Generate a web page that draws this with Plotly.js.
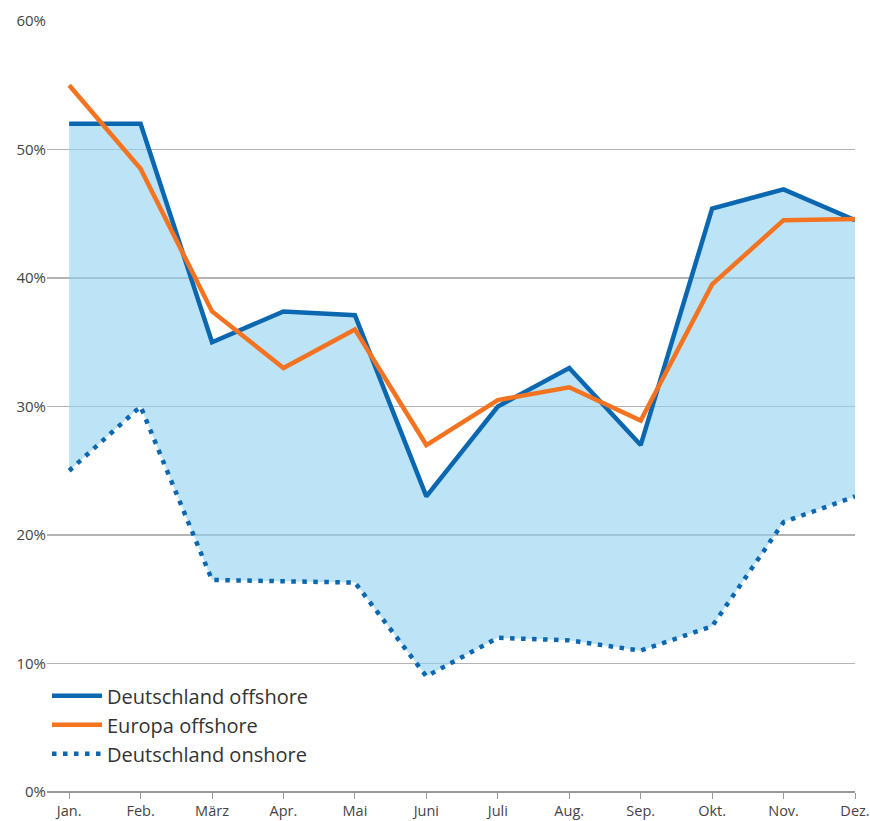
<!DOCTYPE html>
<html>
<head>
<meta charset="utf-8">
<script src="https://cdn.plot.ly/plotly-3.0.1.min.js"></script>
<style>html,body{margin:0;padding:0;background:#fff;}#chart{width:870px;height:821px;}</style>
</head>
<body>
<div id="chart"></div>
<script>
var months = ["Jan.", "Feb.", "März", "Apr.", "Mai", "Juni", "Juli", "Aug.", "Sep.", "Okt.", "Nov.", "Dez."];
var deOffshore = [52, 52, 35, 37.4, 37.1, 23, 30, 33, 27, 45.4, 46.9, 44.5];
var euOffshore = [55, 48.5, 37.4, 33, 36, 27, 30.5, 31.5, 28.9, 39.5, 44.5, 44.6];
var deOnshore = [25, 30, 16.5, 16.4, 16.3, 9, 12, 11.8, 11, 12.9, 21, 23];
var yTicks = [0, 10, 20, 30, 40, 50, 60];
var yTickLabels = ["0%", "10%", "20%", "30%", "40%", "50%", "60%"];

var blue = "#0b67b0", orange = "#f47321";

var traces = [
  {x: months, y: deOnshore, mode: "lines", line: {width: 0, color: "rgba(0,0,0,0)"}, showlegend: false, hoverinfo: "skip"},
  {x: months, y: deOffshore, mode: "lines", fill: "tonexty", fillcolor: "rgba(143,208,240,0.6)", line: {width: 0, color: "rgba(0,0,0,0)"}, showlegend: false, hoverinfo: "skip"},
  {x: months, y: deOffshore, name: "Deutschland offshore", mode: "lines", line: {color: blue, width: 4.5}},
  {x: months, y: euOffshore, name: "Europa offshore", mode: "lines", line: {color: orange, width: 4.5}},
  {x: months, y: deOnshore, name: "Deutschland onshore", mode: "lines", line: {color: blue, width: 4.5, dash: "4.5px,6.5px"}}
];

var layout = {
  width: 870, height: 821,
  margin: {l: 47, r: 15, t: 21, b: 29, pad: 0},
  paper_bgcolor: "#fff", plot_bgcolor: "#fff",
  font: {family: "'Open Sans', Lato, sans-serif", color: "#444", size: 15},
  showlegend: true,
  legend: {x: 0.0, y: 0.15, xanchor: "left", yanchor: "top", traceorder: "normal", font: {size: 20, color: "#333"}, bgcolor: "rgba(0,0,0,0)", tracegroupgap: 0, itemwidth: 50},
  xaxis: {
    type: "category", categoryorder: "array", categoryarray: months,
    range: [-0.31, 11], showgrid: false, zeroline: false,
    showline: false, ticks: "outside", ticklen: 6, tickcolor: "#999", tickwidth: 1,
    tickfont: {size: 14.5, color: "#444"}, fixedrange: true
  },
  yaxis: {
    range: [0, 60], tickmode: "array", tickvals: yTicks, ticktext: yTickLabels,
    showgrid: true, gridcolor: "#b3b3b3", gridwidth: 1.3,
    zeroline: true, zerolinecolor: "#999", zerolinewidth: 1.3,
    showline: false, ticks: "", tickfont: {size: 15, color: "#444"}, fixedrange: true
  },
  hovermode: false
};

Plotly.newPlot("chart", traces, layout, {displayModeBar: false, staticPlot: true});
</script>
</body>
</html>
